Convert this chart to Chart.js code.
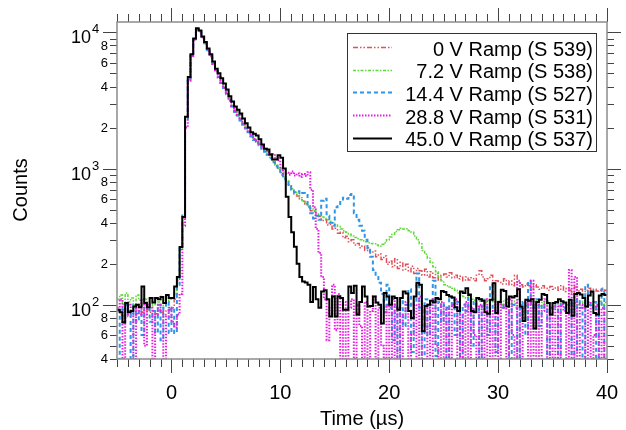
<!DOCTYPE html>
<html>
<head>
<meta charset="utf-8">
<script src="https://cdn.jsdelivr.net/npm/chart.js@4.4.1/dist/chart.umd.min.js"></script>
<style>
  html, body { margin: 0; padding: 0; background: #fff; }
  canvas { display: block; }
</style>
</head>
<body>
<canvas id="chart" width="626" height="430"></canvas>
<script>
// Histograms of counts vs. time, one per ramp voltage. Each array holds one
// value per 0.25 us bin, starting at -5 us (rows of 20 bins = 5 us).
var BIN_START = -5;
var BIN_WIDTH = 0.25;
var X_MIN = -5, X_MAX = 40;
var Y_MIN = 40, Y_MAX = 11900;

var ramp0V = [
  90, 85, 92, 88, 82, 90, 95, 86, 90, 88, 84, 92, 88, 90, 86, 92, 88, 85, 90, 92,
  95, 110, 150, 255, 430, 2300, 4500, 6800, 8900, 10500, 10200, 9200, 8300, 7400, 6700, 5900, 5200, 4700, 4300, 3900,
  3500, 3150, 2850, 2650, 2450, 2280, 2120, 1980, 1850, 1730, 1620, 1560, 1500, 1420, 1350, 1270, 1200, 1120, 1050, 990,
  920, 850, 810, 740, 705, 650, 630, 590, 575, 540, 530, 490, 485, 450, 445, 415, 420, 385, 390, 360,
  365, 335, 340, 310, 318, 290, 300, 275, 282, 262, 270, 250, 262, 240, 248, 225, 236, 215, 228, 198,
  210, 190, 218, 185, 205, 180, 198, 175, 192, 170, 185, 178, 165, 182, 160, 175, 158, 170, 152, 165,
  168, 160, 172, 158, 165, 155, 162, 150, 160, 152, 158, 150, 165, 178, 160, 150, 155, 165, 145, 150,
  148, 142, 155, 140, 150, 138, 165, 145, 140, 135, 142, 138, 132, 140, 135, 130, 138, 132, 128, 136,
  130, 135, 128, 138, 125, 132, 128, 122, 135, 126, 130, 125, 128, 132, 124, 130, 126, 128, 132, 128
];

var ramp7V = [
  110, 118, 100, 122, 105, 112, 100, 118, 108, 100, 110, 105, 98, 112, 100, 105, 115, 98, 105, 110,
  112, 120, 155, 260, 450, 2350, 4600, 6850, 8950, 10600, 10250, 9250, 8350, 7450, 6750, 5950, 5250, 4750, 4350, 3950,
  3550, 3200, 2900, 2680, 2480, 2300, 2140, 2000, 1870, 1750, 1640, 1570, 1500, 1430, 1360, 1280, 1210, 1130, 1060, 1000,
  930, 870, 810, 760, 710, 670, 640, 610, 580, 555, 530, 510, 490, 470, 455, 440, 430, 420, 410, 400,
  385, 375, 360, 350, 340, 330, 320, 312, 305, 300, 295, 290, 285, 282, 280, 275, 270, 278, 285, 300,
  315, 330, 345, 355, 365, 360, 362, 350, 340, 320, 300, 280, 250, 235, 220, 205, 190, 175, 160, 150,
  140, 138, 135, 132, 128, 122, 118, 115, 112, 115, 110, 108, 112, 106, 110, 104, 108, 105, 110, 102,
  106, 100, 108, 104, 98, 106, 102, 110, 100, 104, 98, 106, 102, 100, 108, 98, 104, 100, 106, 102,
  100, 105, 98, 104, 102, 100, 106, 98, 104, 100, 102, 106, 98, 104, 100, 102, 98, 106, 100, 104
];

var ramp14V = [
  40, 95, 75, 100, 85, 40, 100, 75, 90, 60, 100, 95, 75, 90, 62, 100, 55, 95, 105, 62,
  95, 62, 140, 270, 470, 2350, 4550, 6800, 8900, 10550, 10200, 9200, 8300, 7400, 6700, 5900, 5200, 4700, 4250, 3900,
  3500, 3150, 2850, 2600, 2450, 2250, 2100, 1970, 1850, 1720, 1620, 1540, 1480, 1400, 1330, 1260, 1190, 1110, 1040, 980,
  900, 840, 790, 740, 700, 670, 680, 650, 660, 640, 520, 470, 430, 450, 420, 580, 600, 450, 400, 380,
  520, 540, 580, 610, 600, 640, 650, 470, 420, 380, 350, 300, 250, 225, 180, 160, 145, 120, 88, 140,
  95, 55, 100, 40, 110, 70, 100, 130, 45, 105, 170, 95, 40, 110, 60, 100, 150, 42, 105, 75,
  100, 40, 115, 95, 60, 105, 40, 100, 90, 120, 50, 105, 95, 40, 110, 100, 60, 140, 95, 45,
  105, 95, 100, 110, 40, 100, 95, 40, 95, 105, 60, 150, 100, 95, 110, 70, 100, 95, 40, 95,
  100, 95, 40, 105, 95, 100, 105, 40, 45, 110, 95, 40, 140, 100, 95, 105, 40, 100, 130, 40
];

var ramp28V = [
  95, 110, 40, 85, 100, 90, 40, 100, 85, 110, 50, 100, 95, 40, 85, 100, 90, 40, 82, 95,
  75, 68, 85, 120, 380, 2000, 4400, 6700, 8800, 10500, 10150, 9150, 8250, 7350, 6650, 5850, 5150, 4650, 4250, 3900,
  3520, 3180, 2880, 2640, 2470, 2300, 2140, 2000, 1880, 1760, 1650, 1580, 1520, 1460, 1400, 1320, 1250, 1280, 1200, 1150,
  1000, 920, 930, 900, 950, 890, 920, 870, 910, 880, 940, 700, 520, 360, 240, 160, 110, 55, 95, 140,
  65, 120, 40, 105, 40, 95, 110, 40, 100, 70, 40, 105, 40, 90, 115, 40, 95, 50, 40, 100,
  40, 110, 40, 95, 40, 85, 105, 40, 60, 100, 40, 115, 40, 40, 95, 40, 110, 50, 40, 105,
  40, 95, 40, 100, 110, 40, 85, 40, 105, 40, 95, 60, 40, 100, 40, 110, 40, 90, 40, 105,
  40, 100, 95, 40, 110, 60, 40, 150, 40, 95, 105, 40, 150, 40, 100, 40, 90, 110, 40, 95,
  40, 105, 40, 100, 90, 40, 180, 40, 160, 40, 100, 95, 40, 105, 40, 60, 100, 40, 95, 40
];

var ramp45V = [
  92, 88, 74, 103, 88, 90, 97, 100, 96, 136, 103, 96, 112, 104, 112, 110, 114, 103, 118, 112,
  112, 136, 160, 265, 440, 2400, 4700, 6900, 9000, 10700, 10300, 9300, 8500, 7600, 6900, 6100, 5400, 5000, 4600, 4200,
  3800, 3400, 3100, 2850, 2700, 2540, 2330, 2150, 2000, 1850, 1800, 1750, 1640, 1500, 1400, 1380, 1270, 1165, 1165, 1250,
  1200, 1000, 620, 440, 340, 267, 200, 160, 148, 146, 140, 105, 135, 110, 95, 125, 128, 110, 82, 115,
  82, 115, 112, 92, 92, 136, 122, 138, 85, 105, 136, 115, 97, 98, 115, 104, 100, 73, 122, 115,
  100, 115, 112, 92, 112, 125, 121, 90, 80, 115, 145, 140, 64, 98, 100, 107, 104, 112, 110, 126,
  124, 118, 115, 113, 96, 90, 125, 122, 132, 118, 90, 88, 112, 110, 107, 88, 86, 109, 144, 87,
  105, 129, 126, 97, 115, 113, 116, 130, 97, 76, 109, 107, 110, 67, 105, 109, 120, 118, 103, 85,
  103, 105, 110, 106, 104, 87, 109, 83, 120, 122, 119, 112, 97, 117, 125, 87, 85, 117, 120, 118
];

var seriesLabels = [
  '0 V Ramp (S 539)',
  '7.2 V Ramp (S 538)',
  '14.4 V Ramp (S 527)',
  '28.8 V Ramp (S 531)',
  '45.0 V Ramp (S 537)'
];

var xLabeledTicks = [0, 10, 20, 30, 40];
var yMinorLabels = [2, 4, 6, 8];

var FONT = '"Liberation Sans", Arial, sans-serif';

// Turns one count array into step points at the bin starts, closing the
// last bin at the right edge.
function toPoints(counts) {
  var pts = counts.map(function(c, i) {
    return { x: BIN_START + i * BIN_WIDTH, y: c };
  });
  pts.push({ x: BIN_START + counts.length * BIN_WIDTH, y: counts[counts.length - 1] });
  return pts;
}

function dataset(label, counts, color, width, dash, order) {
  return {
    label: label,
    data: toPoints(counts),
    borderColor: color,
    borderWidth: width,
    borderDash: dash,
    stepped: true,
    fill: false,
    pointRadius: 0,
    order: order
  };
}

// Draws the boxed frame with outside ticks, labels, titles and legend.
var framePlugin = {
  id: 'frame',
  afterDraw: function(chart) {
    var ctx = chart.ctx;
    var a = chart.chartArea;
    var xs = chart.scales.x;
    var ys = chart.scales.y;
    ctx.save();

    // x ticks (bottom and top), every 1 us, long every 10 us
    ctx.strokeStyle = '#444';
    ctx.lineWidth = 1;
    ctx.beginPath();
    for (var t = X_MIN; t <= X_MAX; t++) {
      var px = Math.round(xs.getPixelForValue(t)) + 0.5;
      var len = (t % 10 === 0) ? 14 : 8;
      ctx.moveTo(px, a.bottom); ctx.lineTo(px, a.bottom + len);
      ctx.moveTo(px, a.top); ctx.lineTo(px, a.top - len);
    }
    // y ticks (left and right), log decades
    for (var d = 10; d <= 10000; d *= 10) {
      for (var m = 1; m <= 9; m++) {
        var v = m * d;
        if (v < Y_MIN || v > Y_MAX) continue;
        var py = Math.round(ys.getPixelForValue(v)) + 0.5;
        var ylen = (m === 1) ? 14 : 7;
        ctx.moveTo(a.left, py); ctx.lineTo(a.left - ylen, py);
        ctx.moveTo(a.right, py); ctx.lineTo(a.right + ylen, py);
      }
    }
    ctx.stroke();

    // frame
    ctx.strokeStyle = '#8c8c8c';
    ctx.lineWidth = 1.5;
    ctx.strokeRect(a.left, a.top, a.right - a.left, a.bottom - a.top);

    ctx.fillStyle = '#000';
    // x labels
    ctx.font = '20px ' + FONT;
    ctx.textAlign = 'center';
    ctx.textBaseline = 'alphabetic';
    xLabeledTicks.forEach(function(t) {
      ctx.fillText(String(t), xs.getPixelForValue(t), 399);
    });

    // y labels: decades as 10 with superscript, minor digits
    for (var dd = 10; dd <= 10000; dd *= 10) {
      if (dd >= Y_MIN && dd <= Y_MAX) {
        var yd = ys.getPixelForValue(dd);
        ctx.textAlign = 'right';
        ctx.font = '18px ' + FONT;
        ctx.fillText('10', 91, yd + 11);
        ctx.textAlign = 'left';
        ctx.font = '13px ' + FONT;
        ctx.fillText(String(Math.round(Math.log10(dd))), 92, yd + 1);
      }
      yMinorLabels.forEach(function(m) {
        var vv = m * dd;
        if (vv < Y_MIN || vv > Y_MAX) return;
        ctx.textAlign = 'right';
        ctx.textBaseline = 'middle';
        ctx.font = '13px ' + FONT;
        ctx.fillText(String(m), 108, ys.getPixelForValue(vv) + 0.5);
        ctx.textBaseline = 'alphabetic';
      });
    }

    // axis titles
    ctx.font = '20px ' + FONT;
    ctx.textAlign = 'center';
    ctx.fillText('Time (\u00b5s)', 362, 425);
    ctx.save();
    ctx.translate(27, 190);
    ctx.rotate(-Math.PI / 2);
    ctx.fillText('Counts', 0, 0);
    ctx.restore();

    // legend
    ctx.fillStyle = '#fff';
    ctx.fillRect(347.5, 33.5, 249, 118);
    ctx.strokeStyle = '#333';
    ctx.lineWidth = 1;
    ctx.strokeRect(347.5, 33.5, 249, 118);
    chart.data.datasets.forEach(function(ds, i) {
      var yb = 55.7 + i * 22.6;
      ctx.save();
      ctx.setLineDash(ds.borderDash || []);
      ctx.strokeStyle = ds.borderColor;
      ctx.lineWidth = ds.borderWidth;
      ctx.beginPath();
      ctx.moveTo(353, Math.round(yb - 8.5) + 0.5);
      ctx.lineTo(392, Math.round(yb - 8.5) + 0.5);
      ctx.stroke();
      ctx.restore();
      ctx.fillStyle = '#000';
      ctx.font = '20px ' + FONT;
      ctx.textAlign = 'right';
      ctx.fillText(ds.label, 593, yb);
    });

    ctx.restore();
  }
};

new Chart(document.getElementById('chart'), {
  type: 'line',
  data: {
    datasets: [
      dataset(seriesLabels[0], ramp0V, '#e0505c', 1.5, [5, 2, 1.5, 2, 1.5, 2], 5),
      dataset(seriesLabels[1], ramp7V, '#5fd83a', 1.5, [3, 1.5, 1.5, 1.5], 4),
      dataset(seriesLabels[2], ramp14V, '#2f95e6', 2, [4, 3], 3),
      dataset(seriesLabels[3], ramp28V, '#e61ee0', 2, [1.5, 1.5], 2),
      dataset(seriesLabels[4], ramp45V, '#000000', 2, [], 1)
    ]
  },
  options: {
    responsive: false,
    animation: false,
    devicePixelRatio: 1,
    layout: { padding: { left: 117, right: 19, top: 22, bottom: 71 } },
    plugins: {
      legend: { display: false },
      tooltip: { enabled: false }
    },
    scales: {
      x: { type: 'linear', min: X_MIN, max: X_MAX, display: false },
      y: { type: 'logarithmic', min: Y_MIN, max: Y_MAX, display: false }
    },
    elements: { line: { tension: 0 } }
  },
  plugins: [framePlugin]
});
</script>
</body>
</html>
